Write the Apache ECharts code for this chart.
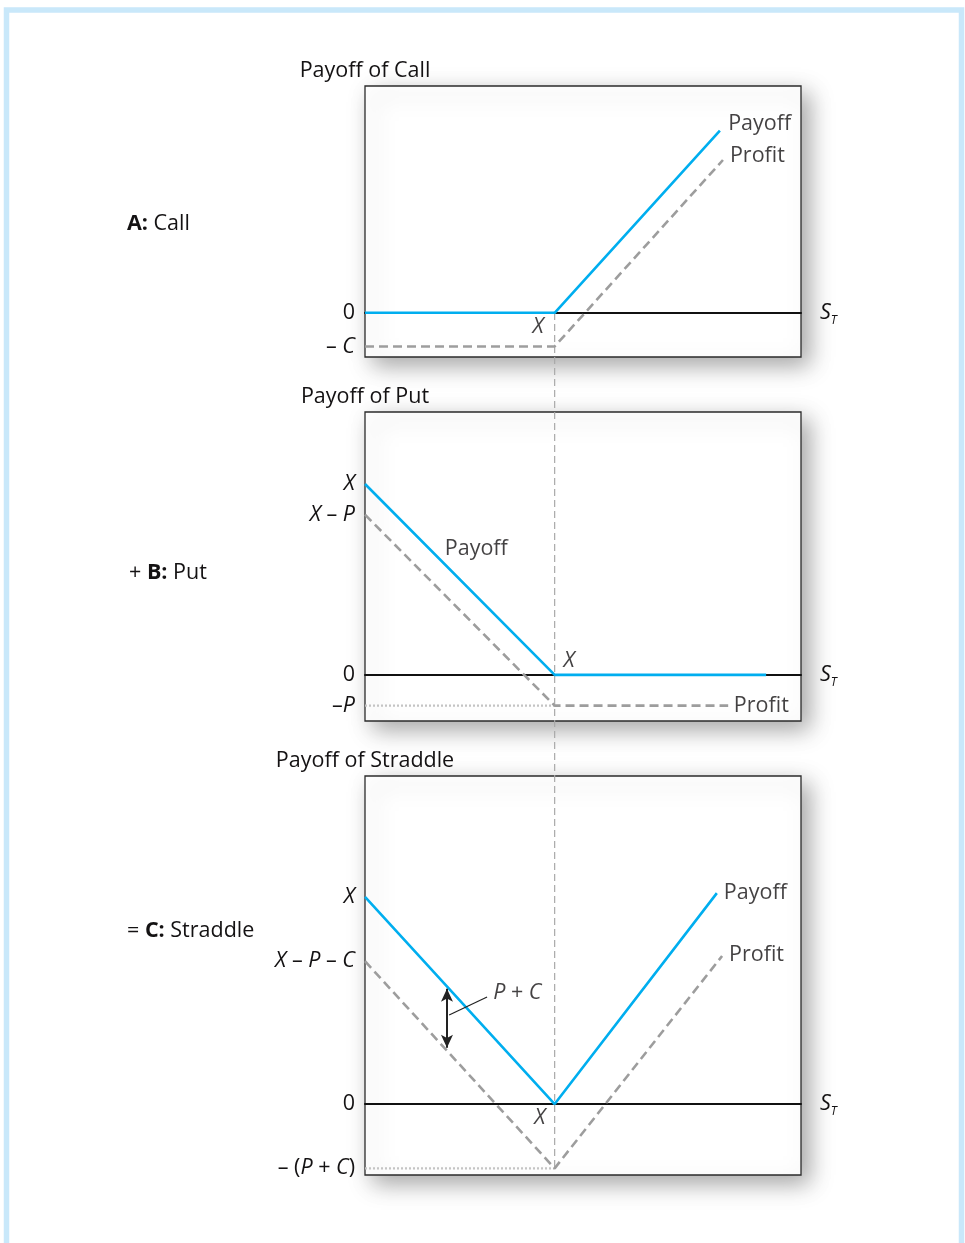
<!DOCTYPE html>
<html><head><meta charset="utf-8">
<script src="https://cdn.jsdelivr.net/npm/echarts@6/dist/echarts.min.js"></script>
<style>html,body{margin:0;padding:0;background:#fff}#c{width:965px;height:1243px}</style>
</head><body><div id="c"></div>
<script>
// ---- data (S_T on x, value on y) ----
const strike = 43.5;
// Panel A: Call
const callPayoff = [[0, 0], [43.5, 0], [81.4, 37.9]];
const callProfit = [[0, -7], [43.5, -7], [82.1, 31.8]];
const callTicks = [0, -7];
const callTickLabels = ['0', '– {i|C}'];
// Panel B: Put
const putPayoff = [[0, 43.5], [43.5, 0], [92, 0]];
const putProfit = [[0, 36.5], [43.5, -7], [83.3, -7]];
const putFloor = [[0, -7], [43.5, -7]];
const putTicks = [43.5, 36.5, 0, -7];
const putTickLabels = ['{i|X}', '{i|X} – {i|P}', '0', '–{i|P}'];
// Panel C: Straddle
const strPayoff = [[0, 43.5], [43.5, 0], [80.7, 44.3]];
const strProfit = [[0, 30], [43.5, -13.5], [81.9, 31.1]];
const strFloor = [[0, -13.5], [43.5, -13.5]];
const strTicks = [43.5, 30, 0, -13.5];
const strTickLabels = ['{i|X}', '{i|X} – {i|P} – {i|C}', '0', '– ({i|P} + {i|C})'];
const spreadArrow = [[18.8, 24.2], [18.8, 11.8]];
const spreadLeader = [[19.3, 18.7], [28.0, 22.5]];
// annotations [S, value, text, align]
const annA = [[39.7, -2.9, '{i|X}', 'center'], [83.3, 39.3, 'Payoff', 'left'], [83.7, 32.6, 'Profit', 'left']];
const annB = [[46.8, 3.2, '{i|X}', 'center'], [18.3, 28.7, 'Payoff', 'left'], [84.6, -7, 'Profit', 'left']];
const annC = [[40.1, -2.9, '{i|X}', 'center'], [82.3, 44.3, 'Payoff', 'left'], [83.5, 31.3, 'Profit', 'left'], [29.4, 23.3, '{i|P} + {i|C}', 'left']];
const panelTitles = ['Payoff of Call', 'Payoff of Put', 'Payoff of Straddle'];
const sideLabels = ['{b|A:} Call', '+ {b|B:} Put', '= {b|C:} Straddle'];
const yRanges = [[-9.2, 47.2], [-10.5, 59.9], [-14.9, 68.9]];

// ---- styling ----
const FONT = 'Open Sans';
const FS = 21.5;
const TXT = '#141213';
const BLUE = '#00aeef';
const GREY = '#9d9d9d';
const rich = {
  i: { fontStyle: 'italic', fontFamily: FONT, fontSize: FS, color: TXT },
  b: { fontWeight: 'bold', fontFamily: FONT, fontSize: FS, color: TXT },
  sub: { fontStyle: 'italic', fontFamily: FONT, fontSize: 12, color: TXT, padding: [15, 0, 0, 0] }
};
const grids = [
  { left: 365, top: 86, width: 436, height: 271 },
  { left: 365, top: 412, width: 436, height: 309 },
  { left: 365, top: 776, width: 436, height: 399 }
];
const tickSets = [[callTicks, callTickLabels], [putTicks, putTickLabels], [strTicks, strTickLabels]];

const option = {
  animation: false,
  backgroundColor: '#fff',
  textStyle: { fontFamily: FONT },
  graphic: [{
    type: 'rect', silent: true, z: 100,
    shape: { x: 6.5, y: 10, width: 955, height: 1300 },
    style: { fill: 'none', stroke: '#c9e8fa', lineWidth: 5.5 }
  }],
  title: sideLabels.map((t, i) => ({
    text: t, left: [127, 129, 127][i], top: [213, 562, 920][i], padding: 0,
    textStyle: { fontFamily: FONT, fontSize: FS, fontWeight: 'normal', color: TXT, rich: rich }
  })),
  grid: grids.map(g => Object.assign({
    show: true, backgroundColor: '#fff', borderColor: '#2b2b2b', borderWidth: 1.3,
    shadowColor: 'rgba(0,0,0,0.35)', shadowBlur: 22, shadowOffsetX: 8, shadowOffsetY: 8
  }, g)).concat([{ left: 365, top: 313, width: 436, height: 855, show: false }]),
  xAxis: [0, 1, 2].map(i => ({
    type: 'value', gridIndex: i, min: 0, max: 100,
    axisLine: { onZero: true, lineStyle: { color: '#111', width: 2 } },
    axisTick: { show: false }, axisLabel: { show: false }, splitLine: { show: false },
    name: '{i|S}{sub|T}', nameLocation: 'end', nameGap: 19,
    nameTextStyle: { rich: rich, fontFamily: FONT, fontSize: FS, color: TXT }
  })).concat([{ type: 'value', gridIndex: 3, min: 0, max: 100, show: false }]),
  yAxis: [0, 1, 2].map(i => ({
    type: 'value', gridIndex: i, min: yRanges[i][0], max: yRanges[i][1],
    axisLine: { show: false }, axisTick: { show: false }, splitLine: { show: false },
    axisLabel: {
      customValues: tickSets[i][0],
      formatter: v => { const k = tickSets[i][0].indexOf(v); return k >= 0 ? tickSets[i][1][k] : ''; },
      margin: 10, fontFamily: FONT, fontSize: FS, color: TXT, rich: rich
    },
    name: panelTitles[i], nameLocation: 'end', nameGap: 4,
    nameTextStyle: { fontFamily: FONT, fontSize: FS, color: TXT, align: 'center' }
  })).concat([{ type: 'value', gridIndex: 3, min: 0, max: 1, show: false }]),
  series: []
};

function lineSeries(idx, data, style, extra) {
  return Object.assign({
    type: 'line', xAxisIndex: idx, yAxisIndex: idx, data: data,
    symbol: 'none', silent: true, lineStyle: style
  }, extra || {});
}
const payStyle = { color: BLUE, width: 2.6 };
const profStyle = { color: GREY, width: 2.6, type: [9, 5] };
const floorStyle = { color: '#c4c4c4', width: 2.2, type: [2, 2] };

function annSeries(idx, arr) {
  return {
    type: 'scatter', xAxisIndex: idx, yAxisIndex: idx, symbolSize: 0, silent: true, z: 5,
    data: arr.map(a => ({ value: [a[0], a[1]], name: a[2],
      label: { align: a[3] } })),
    label: {
      show: true, position: [0, 0], verticalAlign: 'middle', formatter: '{b}',
      fontFamily: FONT, fontSize: FS, color: TXT, rich: rich
    }
  };
}

option.series.push(
  lineSeries(3, [[strike, 1], [strike, 0]], { color: '#a8a8a8', width: 1.2, type: [7, 4] }),
  lineSeries(0, callProfit, profStyle),
  lineSeries(0, callPayoff, payStyle),
  annSeries(0, annA),
  lineSeries(1, putFloor, floorStyle),
  lineSeries(1, putProfit, profStyle),
  lineSeries(1, putPayoff, payStyle),
  annSeries(1, annB),
  lineSeries(2, strFloor, floorStyle),
  lineSeries(2, strProfit, profStyle, {
    markLine: {
      silent: true, symbol: 'none', label: { show: false },
      lineStyle: { color: '#222', width: 1.2, type: 'solid' },
      data: [[{ coord: spreadLeader[0] }, { coord: spreadLeader[1] }]]
    }
  }),
  lineSeries(2, strPayoff, payStyle, {
    markLine: {
      silent: true, symbol: ['arrow', 'arrow'], symbolSize: [9, 13], label: { show: false },
      lineStyle: { color: '#222', width: 2, type: 'solid' },
      data: [[{ coord: spreadArrow[0] }, { coord: spreadArrow[1] }]]
    }
  }),
  annSeries(2, annC)
);

const chart = echarts.init(document.getElementById('c'), null, { renderer: 'canvas' });
chart.setOption(option);
</script>
</body></html>
